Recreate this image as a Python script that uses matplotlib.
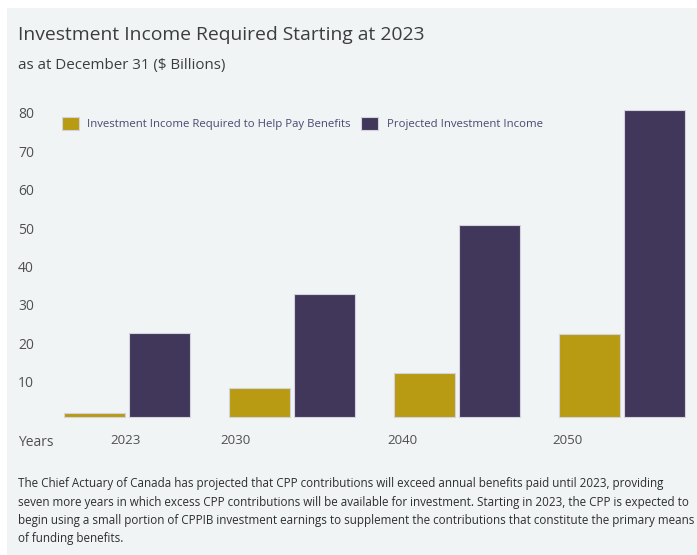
"""Investment income required vs projected investment income, grouped bars."""

import numpy as np
import matplotlib as mpl
mpl.use('Agg')
import matplotlib.pyplot as plt
from matplotlib.transforms import ScaledTranslation


YEARS = ['2023', '2030', '2040', '2050']
REQUIRED = [1.0, 7.5, 11.5, 21.5]
PROJECTED = [22.0, 32.0, 50.0, 80.0]
YTICKS = [10, 20, 30, 40, 50, 60, 70, 80]
# where each year label sits relative to its group centre
LABEL_SHIFT = [-0.01, -0.34, -0.33, -0.33]

TITLE = 'Investment Income Required Starting at 2023'
SUBTITLE = 'as at December 31 ($ Billions)'
NOTE = ('The Chief Actuary of Canada has projected that CPP contributions will exceed annual benefits paid until 2023, providing\n'
        'seven more years in which excess CPP contributions will be available for investment. Starting in 2023, the CPP is expected to\n'
        'begin using a small portion of CPPIB investment earnings to supplement the contributions that constitute the primary means\n'
        'of funding benefits.')

GOLD = '#b89b12'
PURPLE = '#41375a'
PANEL = '#f1f4f5'
TEXT = '#3d3d3d'
TICK = '#505050'


def main():
    plt.rcParams['font.family'] = ['Open Sans', 'DejaVu Sans']
    W, H = 697, 555
    fig = plt.figure(figsize=(W / 100, H / 100), dpi=100)
    fig.patch.set_facecolor('white')

    # light panel behind everything
    fig.patches.append(mpl.patches.Rectangle(
        (7 / W, 0), 1 - 7 / W, 1 - 8 / H, transform=fig.transFigure,
        facecolor=PANEL, edgecolor='none', zorder=-10))

    fig.text(18 / W, 1 - 40 / H, TITLE, fontsize=13.9, color=TEXT)
    fig.text(18 / W, 1 - 69 / H, SUBTITLE, fontsize=10.9, color=TEXT)

    # axes in pixel terms: group 0 centred at 127 px, 165 px between groups
    left, right, top, bottom = 40, 695, 100, 428
    ax = fig.add_axes([left / W, 1 - bottom / H, (right - left) / W,
                       (bottom - top) / H])
    ax.set_facecolor('none')
    ppu = 3.84          # pixels per billion
    zero = 417
    ax.set_xlim((left - 127) / 165, (right - 127) / 165)
    ax.set_ylim(-(bottom - zero) / ppu, (zero - top) / ppu)

    x = np.arange(len(YEARS))
    width = 0.37
    off = 0.197
    bar_kw = dict(width=width, edgecolor='#d4d2de', linewidth=0.8)
    b1 = ax.bar(x - off, REQUIRED, color=GOLD, **bar_kw)
    b2 = ax.bar(x + off, PROJECTED, color=PURPLE, **bar_kw)

    for s in ax.spines.values():
        s.set_visible(False)

    ax.set_yticks(YTICKS)
    ax.tick_params(axis='y', length=0, pad=15.8, labelsize=10,
                   labelcolor=TICK)
    for lab in ax.get_yticklabels():
        lab.set_horizontalalignment('left')
        lab.set_transform(lab.get_transform() +
                          ScaledTranslation(0, -3 / 100, fig.dpi_scale_trans))

    ax.set_xticks(x + np.array(LABEL_SHIFT))
    ax.set_xticklabels(YEARS)
    ax.tick_params(axis='x', length=0, pad=4.5, labelsize=9.6,
                   labelcolor=TICK)
    fig.text(18 / W, 1 - 446 / H, 'Years', fontsize=10, color=TICK)

    leg = ax.legend([b1, b2],
                    ['Investment Income Required to Help Pay Benefits',
                     'Projected Investment Income'],
                    loc='upper left', bbox_to_anchor=((57 - left) / (right - left),
                                                      1 - 12 / (bottom - top)),
                    ncol=2, frameon=False, fontsize=8.2, handlelength=1.5,
                    handleheight=1.5, handletextpad=0.75, columnspacing=0.9,
                    borderaxespad=0)
    for t in leg.get_texts():
        t.set_color('#4a4870')

    fig.text(18 / W, 1 - 545 / H, NOTE, fontsize=8.4, color='#2e2e2e',
             linespacing=1.52, va='bottom')

    fig.savefig('out.png', dpi=100, facecolor=fig.get_facecolor())


if __name__ == '__main__':
    main()
